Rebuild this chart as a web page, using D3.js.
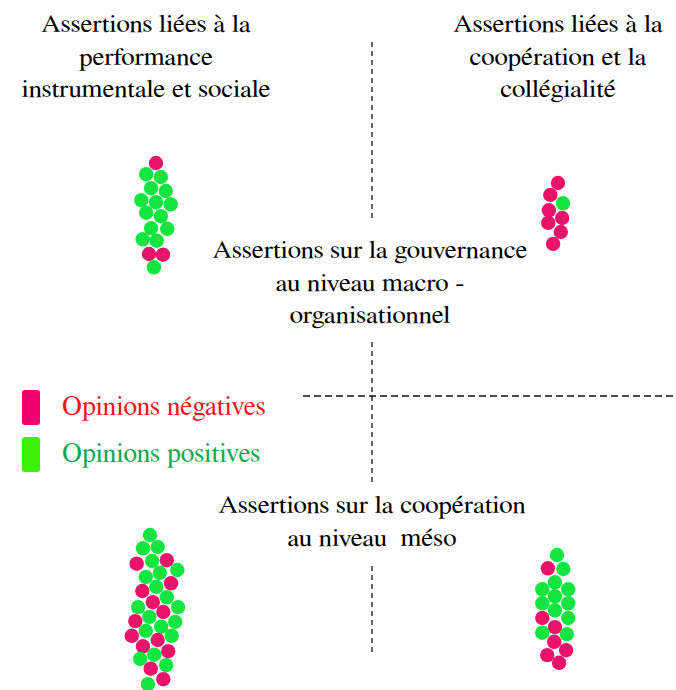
<!DOCTYPE html>
<html><head><meta charset="utf-8"><script src="https://cdn.jsdelivr.net/npm/d3@7"></script></head>
<body style="margin:0">
<div id="c"></div>
<script>
// opinions: N = négative, P = positive
// each dot: [column offset, row offset, opinion], offsets in dot radii from the first dot
let perfInstr = [
  [0, 0, "N"], [-1.4, 1.6, "P"], [0.7, 2, "P"], [-0.7, 3.6, "P"], [1.4, 4, "P"],
  [-2.1, 5.3, "P"], [0, 5.6, "P"], [2.1, 5.9, "P"], [-1.4, 7.1, "P"], [0.7, 7.6, "P"],
  [-0.7, 9.3, "P"], [1.6, 9.4, "P"], [-1.9, 10.9, "P"], [0.1, 11.1, "P"],
  [-1, 13, "N"], [1, 13.1, "N"], [-0.3, 14.9, "P"]
];
let coopCollegial = [
  [0, 0, "N"], [-1.1, 1.7, "N"], [0.7, 2.9, "P"], [-1.3, 3.9, "N"],
  [0.6, 5, "N"], [-1.4, 5.7, "N"], [0.4, 7, "N"], [-0.7, 8.7, "N"]
];
let coopMeso = [
  [0, 0, "P"], [-1, 1.9, "P"], [1.1, 1.7, "P"],
  [-1.9, 4.1, "N"], [0.3, 3.7, "P"], [2.4, 3.6, "N"],
  [-0.6, 6, "P"], [1.4, 5.4, "P"], [3.9, 5, "P"],
  [-1.1, 8, "N"], [0.9, 7.4, "P"], [3, 6.9, "N"],
  [0.4, 9.6, "N"], [2.4, 8.9, "P"],
  [-1.7, 10.3, "P"], [1.9, 11, "N"], [4, 10.3, "P"],
  [-2.1, 12.3, "N"], [-0.1, 11.7, "P"], [3.6, 12.4, "P"],
  [-0.6, 13.7, "P"], [1.6, 13.1, "P"],
  [-2.6, 14.4, "N"], [1.1, 15, "N"], [3.1, 14.4, "P"],
  [-1, 15.9, "N"], [2.6, 16.6, "N"],
  [-1.4, 17.7, "P"], [0.6, 17.1, "P"], [2.3, 18.6, "P"],
  [0.1, 19.1, "N"], [1.9, 20.6, "N"],
  [-0.3, 21.3, "P"]
];
let gouvMacro = [
  [0, 0, "P"], [-1.3, 1.9, "N"], [0.9, 2, "P"], [-0.3, 3.9, "P"],
  [-2.1, 4.9, "P"], [-0.3, 5.9, "P"], [1.6, 4.9, "P"],
  [-2.1, 6.9, "P"], [1.6, 6.9, "P"], [-0.3, 7.9, "P"],
  [-2.1, 9, "N"], [1.6, 9, "P"], [-0.3, 10.3, "N"],
  [-2.1, 11.1, "P"], [1.4, 11.3, "P"], [-0.4, 12.4, "N"],
  [1.3, 13.6, "N"], [-1.4, 14.3, "N"], [0.3, 15.4, "N"]
];

let titlePerf = ["Assertions liées à la", "performance", "instrumentale et sociale"];
let titleCoop = ["Assertions liées à la", "coopération et la", "collégialité"];
let titleGouv = ["Assertions sur la gouvernance", "au niveau macro -", "organisationnel"];
let titleMeso = ["Assertions sur la coopération", "au niveau\u00a0 méso"];

let opinions = ["N", "P"];
let opinionLabels = ["Opinions négatives", "Opinions positives"];

let w = 676, h = 690;

let svg = d3.select("#c").append("svg").attr("width", w).attr("height", h);

// pick the first serif font that is really there: its width differs from a missing font's
let candidates = ["Liberation Serif", "Tinos", "Times New Roman", "Times", "FreeSerif", "Nimbus Roman", "DejaVu Serif"];
let probe = svg.append("text").attr("x", -999).attr("y", -999).style("font-size", "40px")
  .text("Assertions liées mmmwwwiii");
let widthOf = (f) => {
  probe.style("font-family", "\"" + f + "\"");
  return probe.node().getComputedTextLength();
};
let missing = widthOf("zzz-no-such-font");
let fontName = candidates.find((f) => Math.abs(widthOf(f) - missing) > 0.5) || "Liberation Serif";
probe.remove();

let dotColor = d3.scaleOrdinal().domain(opinions).range(["#ea1369", "#12e53f"]);
let keyColor = d3.scaleOrdinal().domain(opinions).range(["#f0036c", "#3bf004"]);
let textColor = d3.scaleOrdinal().domain(opinions).range(["#f5141c", "#12a84e"]);

// offsets are in dot radii
let r = 7.2;
let ox = d3.scaleLinear().domain([0, 1]).range([0, 7]);
let oy = d3.scaleLinear().domain([0, 1]).range([0, 7]);

// titles, one text per line, a little wider than the plain font
let titles = [
  {lines: titlePerf, x: 146, y: 32},
  {lines: titleCoop, x: 558, y: 32},
  {lines: titleGouv, x: 370, y: 258},
  {lines: titleMeso, x: 372, y: 513}
];

let titleLines = [];
titles.forEach((t) => {
  t.lines.forEach((line, i) => {
    titleLines.push({text: line, x: t.x, y: t.y + i * 32.5});
  });
});

svg.selectAll("text.title")
  .data(titleLines)
  .enter()
  .append("text")
  .attr("class", "title")
  .attr("x", 0)
  .attr("y", 0)
  .attr("transform", (d) => "translate(" + d.x + "," + d.y + ") scale(1.08,1)")
  .attr("text-anchor", "middle")
  .style("font-family", (d) => "\"" + fontName + "\"")
  .style("font-size", "25px")
  .text((d) => d.text);

// legend
let legend = svg.append("g")
  .selectAll("g")
  .data(opinions)
  .enter()
  .append("g")
  .attr("transform", (d, i) => "translate(0," + (i * 47) + ")");

legend.append("text")
  .attr("x", 62)
  .attr("y", 415)
  .style("font-family", (d) => "\"" + fontName + "\"")
  .style("font-size", "27.5px")
  .style("fill", (d) => textColor(d))
  .text((d, i) => opinionLabels[i]);

legend.append("rect")
  .attr("x", 22)
  .attr("y", 390)
  .attr("width", 18)
  .attr("height", 35)
  .attr("rx", 3)
  .style("fill", (d) => keyColor(d));

// dashed cross
let dash = svg.append("g")
  .attr("stroke", "#111")
  .attr("stroke-width", 1.3)
  .attr("fill", "none");

dash.selectAll("line.v")
  .data([[42, 222], [342, 484], [566, 652]])
  .enter()
  .append("line")
  .attr("class", "v")
  .attr("x1", 372).attr("x2", 372)
  .attr("y1", (d) => d[0])
  .attr("y2", (d) => d[1])
  .attr("stroke-dasharray", "5,4");

dash.append("line")
  .attr("x1", 303).attr("x2", 676)
  .attr("y1", 396).attr("y2", 396)
  .attr("stroke-dasharray", "7,4");

// clusters
let clusters = [
  {dots: perfInstr, x: 156, y: 163},
  {dots: coopCollegial, x: 558, y: 183},
  {dots: coopMeso, x: 150, y: 535},
  {dots: gouvMacro, x: 557, y: 555}
];

clusters.forEach((c) => {
  svg.append("g")
    .attr("transform", "translate(" + c.x + "," + c.y + ")")
    .selectAll("circle")
    .data(c.dots)
    .enter()
    .append("circle")
    .attr("cx", (d) => ox(d[0]))
    .attr("cy", (d) => oy(d[1]))
    .attr("r", r)
    .style("fill", (d) => dotColor(d[2]));
});
</script>
</body>
</html>
